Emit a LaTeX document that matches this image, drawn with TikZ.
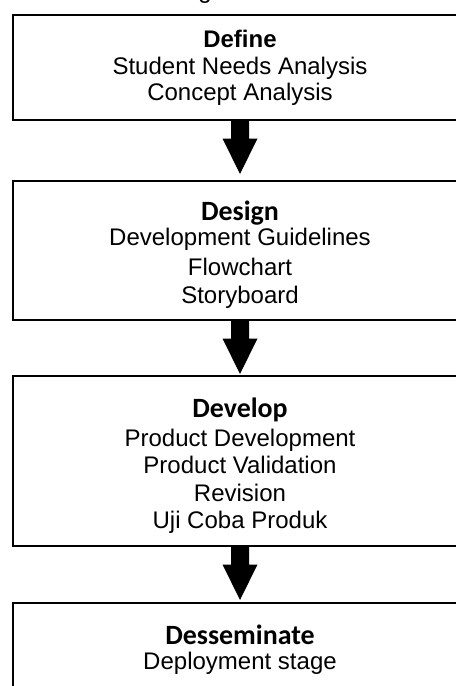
\documentclass[tikz,border=0pt]{standalone}
\usepackage{fontspec}
\setmainfont{Liberation Sans}
\newfontfamily\headfont{Carlito}
\usetikzlibrary{calc}

% block arrow from the bottom of one stage box to just above the next one
% #1 = source box, #2 = target box, #3 = gap between tip and target
\newcommand\stagearrow[3]{%
  \fill ($(#1.south)+(-9,0)$)
     -- ($(#2.north)+(-9,-#3-35.5)$)
     -- ($(#2.north)+(-17.5,-#3-35.5)$)
     -- ($(#2.north)+(0,-#3)$)
     -- ($(#2.north)+(17.5,-#3-35.5)$)
     -- ($(#2.north)+(9,-#3-35.5)$)
     -- ($(#1.south)+(9,0)$) -- cycle;}

\begin{document}
\begin{tikzpicture}[x=1bp,y=-1bp,
  stagebox/.style={draw=black, line width=2.7bp, rectangle, inner sep=0pt,
    outer sep=0pt, anchor=north west, minimum width=454bp},
  body/.style={anchor=base, inner sep=0pt, font=\fontsize{24.1}{28}\selectfont},
  headA/.style={anchor=base, inner sep=0pt, font=\fontsize{24.1}{28}\selectfont\bfseries},
  headB/.style={anchor=base, inner sep=0pt, font=\headfont\fontsize{28}{32}\selectfont\bfseries}]
\useasboundingbox (0,0) rectangle (456,686);
\clip (0,0) rectangle (456,686);

% heading line above the chart, mostly outside the frame
\node[body] (cap) at (205,-1) {g};

% stage boxes (the right side runs past the frame)
\node[stagebox, minimum width=520bp, minimum height=105bp] (b1) at (13,15) {};
\node[stagebox, minimum width=520bp, minimum height=139bp] (b2) at (13,181) {};
\node[stagebox, minimum width=520bp, minimum height=170bp] (b3) at (13,376) {};
\node[stagebox, minimum width=520bp, minimum height=130bp] (b4) at (13,603) {};

% arrow axis
\coordinate (ax) at (240,0);

% Define
\node[headA] (t11) at (240,47.5) {Define};
\node[body]  (t12) at (240,75)   {Student Needs Analysis};
\node[body]  (t13) at (240,101)  {Concept Analysis};

% Design
\node[headB] (t21) at (240,220) {Design};
\node[body]  (t22) at (240,245) {Development Guidelines};
\node[body]  (t23) at (240,275) {Flowchart};
\node[body]  (t24) at (240,303) {Storyboard};

% Develop
\node[headB] (t31) at (240,417)   {Develop};
\node[body]  (t32) at (240,446)   {Product Development};
\node[body]  (t33) at (240,473.5) {Product Validation};
\node[body]  (t34) at (240,501)   {Revision};
\node[body]  (t35) at (240,528.5) {Uji Coba Produk};

% Desseminate
\node[headB] (t41) at (240,644)   {Desseminate};
\node[body]  (t42) at (240,669.5) {Deployment stage};

% arrows between stages, on the common axis x = 240
\stagearrow{b1.south -| ax}{b2.north -| ax}{7}
\stagearrow{b2.south -| ax}{b3.north -| ax}{2}
\stagearrow{b3.south -| ax}{b4.north -| ax}{3}
\end{tikzpicture}
\end{document}
